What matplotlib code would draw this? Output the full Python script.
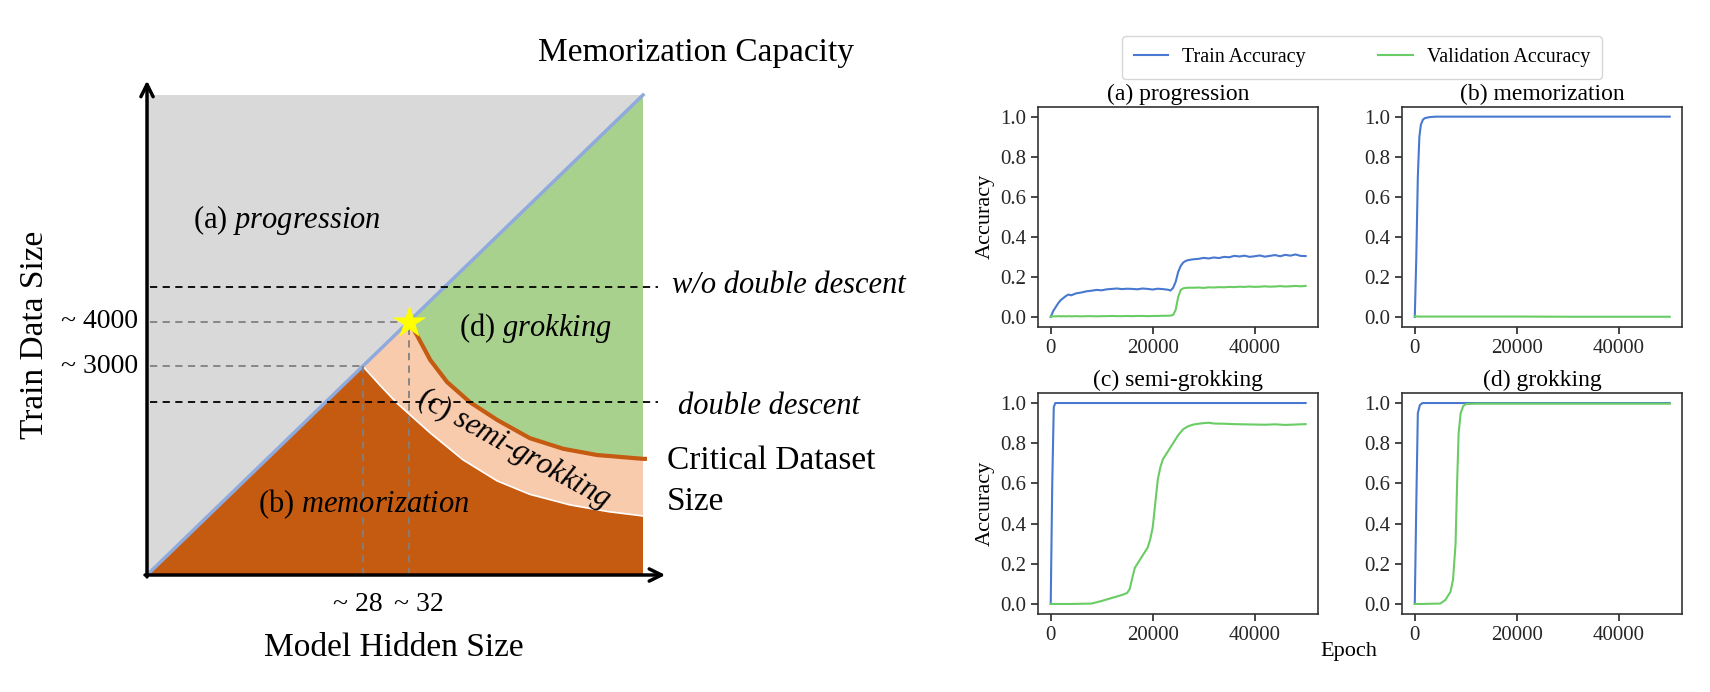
import numpy as np
import matplotlib
matplotlib.use("Agg")
import matplotlib.pyplot as plt

plt.rcParams['font.family'] = ['Liberation Serif', 'DejaVu Serif']
plt.rcParams['mathtext.fontset'] = 'custom'
plt.rcParams['mathtext.rm'] = 'Liberation Serif'
plt.rcParams['mathtext.it'] = 'Liberation Serif:italic'

# ---- phase diagram (schematic units: hidden size on x, train size on y, 0..1) ----
star_pt = 0.528          # ~32 hidden / ~4000 samples
semi_pt = 0.435          # ~28 hidden / ~3000 samples
wo_dd_level = 0.60       # "w/o double descent"
dd_level = 0.36          # "double descent"
crit_x = [0.528, 0.544, 0.571, 0.605, 0.651, 0.706, 0.772, 0.839, 0.907, 1.0, 1.008]
crit_y = [0.528, 0.500, 0.448, 0.402, 0.360, 0.323, 0.285, 0.263, 0.250, 0.242, 0.242]
low_x = [0.435, 0.470, 0.504, 0.571, 0.637, 0.706, 0.772, 0.853, 0.930, 1.0]
low_y = [0.435, 0.395, 0.358, 0.296, 0.240, 0.196, 0.168, 0.146, 0.132, 0.123]

# ---- training curves ----
ep_a = [0, 500, 1000, 1500, 2000, 2500, 3000, 3500, 4000, 5000, 6000, 7000, 8000, 9000,
        10000, 11000, 12000, 13000, 14000, 15000, 16000, 17000, 18000, 19000, 20000,
        21000, 22000, 23000, 23500, 24000, 24500, 25000, 25500, 26000, 26500, 27000,
        28000, 29000, 30000, 31000, 32000, 33000, 34000, 35000, 36000, 37000, 38000,
        39000, 40000, 41000, 42000, 43000, 44000, 45000, 46000, 47000, 48000, 49000, 50000]
train_a = [0.0, 0.03, 0.05, 0.07, 0.085, 0.095, 0.105, 0.112, 0.108, 0.118, 0.122, 0.128,
           0.131, 0.135, 0.133, 0.138, 0.140, 0.142, 0.139, 0.141, 0.140, 0.138, 0.142,
           0.140, 0.137, 0.141, 0.139, 0.136, 0.132, 0.145, 0.175, 0.225, 0.255, 0.272,
           0.280, 0.284, 0.288, 0.290, 0.295, 0.292, 0.297, 0.294, 0.300, 0.298, 0.305,
           0.302, 0.306, 0.300, 0.303, 0.307, 0.301, 0.305, 0.309, 0.303, 0.310, 0.306,
           0.312, 0.305, 0.304]
val_a = [0.002, 0.003, 0.003, 0.004, 0.003, 0.004, 0.003, 0.004, 0.003, 0.004, 0.003, 0.004,
         0.004, 0.003, 0.004, 0.004, 0.005, 0.004, 0.004, 0.005, 0.004, 0.005, 0.005,
         0.004, 0.005, 0.005, 0.006, 0.006, 0.007, 0.010, 0.035, 0.100, 0.135, 0.143,
         0.145, 0.146, 0.146, 0.147, 0.145, 0.148, 0.147, 0.149, 0.148, 0.150, 0.149,
         0.151, 0.150, 0.152, 0.150, 0.151, 0.153, 0.151, 0.152, 0.154, 0.152, 0.153,
         0.155, 0.153, 0.155]

ep_b = [0, 300, 600, 900, 1200, 1600, 2000, 3000, 4000, 10000, 20000, 30000, 40000, 50000]
train_b = [0.0, 0.30, 0.70, 0.90, 0.96, 0.985, 0.993, 0.998, 1.0, 1.0, 1.0, 1.0, 1.0, 1.0]
val_b = [0.003, 0.003, 0.002, 0.002, 0.002, 0.002, 0.002, 0.002, 0.002, 0.002, 0.002, 0.001, 0.001, 0.001]

ep_c = [0, 300, 600, 900, 4000, 8000, 10000, 12000, 14000, 15000, 15500, 16000, 16500, 17000,
        18000, 19000, 19500, 20000, 20500, 21000, 21500, 22000, 23000, 24000, 25000, 26000,
        27000, 28000, 29000, 30000, 31000, 32000, 34000, 36000, 38000, 40000, 42000, 44000,
        46000, 48000, 50000]
train_c = [0.0, 0.60, 0.98] + [1.0] * 38
val_c = [0.0, 0.0, 0.0, 0.0, 0.0, 0.002, 0.015, 0.030, 0.045, 0.055, 0.075, 0.130, 0.180,
         0.200, 0.240, 0.280, 0.320, 0.380, 0.500, 0.620, 0.680, 0.720, 0.760, 0.800, 0.840,
         0.870, 0.885, 0.893, 0.897, 0.900, 0.902, 0.898, 0.897, 0.895, 0.894, 0.893, 0.892,
         0.894, 0.891, 0.893, 0.895]

ep_d = [0, 300, 600, 1000, 1500, 5000, 6000, 7000, 7500, 8000, 8300, 8600, 9000, 9500,
        10000, 12000, 20000, 30000, 40000, 50000]
train_d = [0.0, 0.50, 0.95, 0.99] + [1.0] * 16
val_d = [0.0, 0.0, 0.0, 0.0, 0.0, 0.002, 0.020, 0.060, 0.120, 0.300, 0.600, 0.850, 0.950,
         0.985, 0.995, 0.997, 0.997, 0.997, 0.997, 0.997]

titles = ['(a) progression', '(b) memorization', '(c) semi-grokking', '(d) grokking']
c_train = '#4878d0'
c_val = '#6acc64'

fig = plt.figure(figsize=(17.1, 6.92), dpi=100)

# ---------------- left: phase diagram ----------------
ax0 = fig.add_axes([0, 0, 870 / 1710, 1])
ax0.set_xlim(-0.2964, 1.4577)
ax0.set_ylim(-0.24375, 1.1979)
ax0.axis('off')

ax0.fill([0, 1, 1, 0], [0, 0, 1, 1], color='#d9d9d9', lw=0)

cx = [x for x in crit_x if x <= 1.0]
cy = crit_y[:len(cx)]
ax0.fill([star_pt, 1.0] + cx[::-1], [star_pt, 1.0] + cy[::-1], color='#a9d18e', lw=0)
ax0.fill([semi_pt] + cx + [1.0] + low_x[::-1],
         [semi_pt] + cy + [low_y[-1]] + low_y[::-1], color='#f8cbad', lw=0)
ax0.fill([0] + low_x + [1.0], [0] + low_y + [0], color='#c55a11', lw=0)

ax0.plot(low_x, low_y, color='white', lw=1.2)
ax0.plot(crit_x, crit_y, color='#c55a11', lw=3, solid_capstyle='butt')
ax0.plot([0, 1], [0, 1], color='#8faadc', lw=2.5)

# dashed guides
for lv in [wo_dd_level, dd_level]:
    ax0.plot([0.006, 1.03], [lv, lv], color='black', ls=(0, (4, 3)), lw=1.3)
for p in [star_pt, semi_pt]:
    ax0.plot([0.006, p], [p, p], color='#808080', ls=(0, (4, 3)), lw=1.3)
    ax0.plot([p, p], [0, p], color='#808080', ls=(0, (4, 3)), lw=1.3)

ax0.plot([star_pt], [star_pt], marker='*', color='#ffff00', markersize=25, mec='none', zorder=5)

# axis arrows
arr = dict(arrowstyle='->', lw=2.5, color='black', mutation_scale=22, shrinkA=0, shrinkB=0)
ax0.annotate('', xy=(0, 1.03), xytext=(0, -0.004), arrowprops=arr)
ax0.annotate('', xy=(1.045, 0), xytext=(-0.004, 0), arrowprops=arr)

ax0.text(-0.018, star_pt, '~ 4000', ha='right', va='center', fontsize=20)
ax0.text(-0.018, semi_pt, '~ 3000', ha='right', va='center', fontsize=20)
ax0.text(0.425, -0.0625, '~ 28', ha='center', va='center', fontsize=20)
ax0.text(0.548, -0.0625, '~ 32', ha='center', va='center', fontsize=20)
ax0.text(0.498, -0.152, 'Model Hidden Size', ha='center', va='center', fontsize=24)
ax0.text(-0.226, 0.5, 'Train Data Size', ha='center', va='center', fontsize=24, rotation=90)
ax0.text(0.788, 1.0875, 'Memorization Capacity', ha='left', va='center', fontsize=24)
ax0.text(1.058, 0.604, 'w/o double descent', ha='left', va='center', fontsize=22, style='italic')
ax0.text(1.071, 0.35, 'double descent', ha='left', va='center', fontsize=22, style='italic')
ax0.text(1.048, 0.196, 'Critical Dataset\nSize', ha='left', va='center', fontsize=24, linespacing=1.45)

ax0.text(0.093, 0.74, r'(a) $\mathit{progression}$', ha='left', va='center', fontsize=22)
ax0.text(0.629, 0.515, r'(d) $\mathit{grokking}$', ha='left', va='center', fontsize=22)
ax0.text(0.224, 0.148, r'(b) $\mathit{memorization}$', ha='left', va='center', fontsize=22)
ax0.text(0.74, 0.262, r'(c) $\mathit{semi}$-$\mathit{grokking}$', ha='center', va='center',
         fontsize=22, rotation=-29, rotation_mode='anchor')

# ---------------- right: accuracy curves ----------------
positions = [[0.6070, 0.5275, 0.1640, 0.3184], [0.8199, 0.5275, 0.1640, 0.3184],
             [0.6070, 0.1127, 0.1640, 0.3194], [0.8199, 0.1127, 0.1640, 0.3194]]
curves = [(ep_a, train_a, val_a), (ep_b, train_b, val_b),
          (ep_c, train_c, val_c), (ep_d, train_d, val_d)]

for i, (pos, (ep, tr, va)) in enumerate(zip(positions, curves)):
    ax = fig.add_axes(pos)
    lt, = ax.plot(ep, tr, color=c_train, lw=1.5, label='Train Accuracy')
    lv, = ax.plot(ep, va, color=c_val, lw=1.5, label='Validation Accuracy')
    ax.set_xlim(-2500, 52500)
    ax.set_ylim(-0.05, 1.05)
    ax.set_xticks([0, 20000, 40000])
    ax.set_yticks([0.0, 0.2, 0.4, 0.6, 0.8, 1.0])
    ax.set_yticklabels(['0.0', '0.2', '0.4', '0.6', '0.8', '1.0'])
    ax.tick_params(labelsize=15, direction='out', length=5, width=1.2, colors='#262626')
    for s in ax.spines.values():
        s.set_color('#333333')
        s.set_linewidth(1.2)
    ax.set_title(titles[i], fontsize=17, pad=5)
    if i % 2 == 0:
        ax.set_ylabel('Accuracy', fontsize=16)

fig.legend([lt, lv], ['Train Accuracy', 'Validation Accuracy'], loc='center',
           bbox_to_anchor=(0.7965, 0.917), ncol=2, fontsize=14.5, frameon=True,
           fancybox=True, edgecolor='#cccccc', handlelength=1.7, handletextpad=0.7,
           columnspacing=3.6, borderpad=0.6)
fig.text(0.789, 0.058, 'Epoch', ha='center', va='center', fontsize=16)

fig.savefig('out.png', dpi=100)
